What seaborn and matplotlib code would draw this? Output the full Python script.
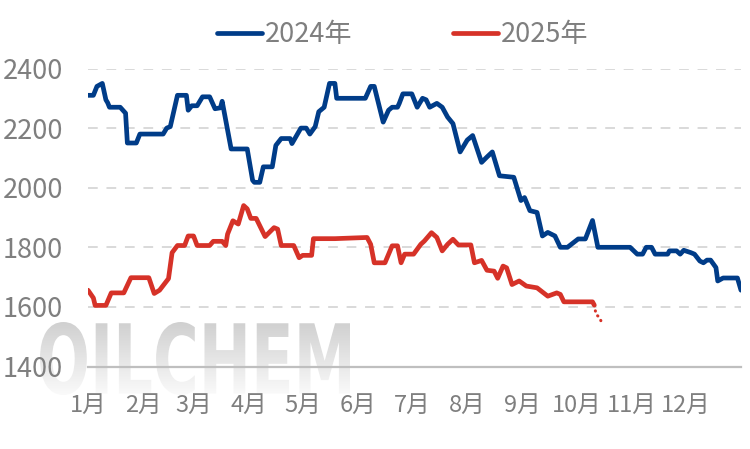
import matplotlib
matplotlib.use('Agg')
import numpy as np
import pandas as pd
import matplotlib.pyplot as plt
import seaborn as sns
from matplotlib.lines import Line2D
from matplotlib.textpath import TextPath
from matplotlib.font_manager import FontProperties
from matplotlib.patches import PathPatch
from matplotlib.transforms import Affine2D

# 数据: x 为一年中的第几天, y 为价格
days_2024 = [0, 3, 5, 8, 10, 11, 12, 18, 21, 22, 27, 29, 42, 44, 46, 50, 55, 56, 58, 61,
             64, 68, 71, 74, 75, 80, 89, 92, 93, 96, 98, 103, 105, 108, 113, 114, 119, 122,
             124, 127, 129, 132, 135, 138, 139, 155, 158, 160, 165, 168, 170, 173, 174, 176,
             181, 184, 187, 189, 191, 195, 198, 201, 204, 208, 212, 215, 220, 223, 226, 230,
             238, 242, 244, 247, 251, 254, 257, 261, 264, 268, 274, 278, 282, 285, 303, 307,
             310, 312, 315, 317, 324, 325, 329, 331, 333, 337, 339, 342, 344, 346, 348, 351,
             352, 355, 363, 365]
price_2024 = [2310, 2310, 2340, 2350, 2295, 2285, 2270, 2270, 2250, 2150, 2150, 2180, 2180,
              2200, 2205, 2310, 2310, 2260, 2275, 2275, 2305, 2305, 2265, 2268, 2290, 2130,
              2130, 2025, 2018, 2018, 2070, 2070, 2142, 2165, 2165, 2148, 2200, 2200, 2180,
              2205, 2255, 2270, 2350, 2350, 2300, 2300, 2340, 2340, 2220, 2260, 2270, 2270,
              2283, 2315, 2315, 2270, 2300, 2295, 2270, 2283, 2270, 2237, 2215, 2120, 2160,
              2175, 2085, 2103, 2120, 2040, 2035, 1957, 1967, 1923, 1917, 1838, 1850, 1838,
              1800, 1800, 1828, 1828, 1890, 1800, 1800, 1777, 1777, 1800, 1800, 1777, 1777,
              1788, 1788, 1777, 1790, 1782, 1777, 1754, 1748, 1757, 1757, 1732, 1687, 1697,
              1697, 1656]

days_2025 = [0, 3, 4, 10, 13, 20, 24, 34, 37, 40, 45, 47, 50, 54, 56, 59, 61, 68, 70, 75,
             77, 78, 81, 84, 87, 89, 91, 94, 99, 104, 106, 108, 115, 118, 120, 125, 126, 138,
             156, 158, 160, 166, 170, 173, 175, 177, 182, 186, 188, 192, 195, 198, 201, 204,
             207, 214, 216, 220, 223, 227, 229, 232, 234, 237, 241, 245, 251, 254, 257, 262,
             264, 266, 282, 283]
price_2025 = [1656, 1630, 1605, 1605, 1647, 1647, 1698, 1698, 1645, 1656, 1695, 1782, 1806,
              1806, 1838, 1838, 1806, 1806, 1820, 1820, 1806, 1844, 1889, 1878, 1940, 1929,
              1897, 1897, 1836, 1866, 1861, 1806, 1806, 1765, 1773, 1773, 1829, 1829, 1833,
              1810, 1748, 1748, 1805, 1805, 1748, 1777, 1777, 1810, 1821, 1849, 1833, 1788,
              1810, 1827, 1808, 1808, 1748, 1756, 1723, 1720, 1696, 1737, 1731, 1675, 1687,
              1670, 1664, 1650, 1636, 1647, 1642, 1617, 1617, 1606]

# 2025 末端虚线部分
days_2025_tail = [283, 284, 286, 287]
price_2025_tail = [1606, 1574, 1565, 1548]

month_starts = [0, 31, 59, 90, 120, 151, 181, 212, 243, 273, 304, 334, 365]
month_labels = ['1月', '2月', '3月', '4月', '5月', '6月', '7月', '8月', '9月', '10月', '11月', '12月']
y_ticks = [1400, 1600, 1800, 2000, 2200, 2400]

blue = '#003C88'
red = '#D63228'
gray = '#7F7F7F'

sns.set_style('white')
plt.rcParams['font.family'] = ['Noto Sans CJK SC', 'DejaVu Sans']

df = pd.concat([
    pd.DataFrame({'day': days_2024, 'price': price_2024, 'year': '2024年'}),
    pd.DataFrame({'day': days_2025, 'price': price_2025, 'year': '2025年'}),
])

fig = plt.figure(figsize=(7.5, 4.49), dpi=100)

# 水印 OILCHEM (渐变灰)
bg = fig.add_axes([0, 0, 1, 1], zorder=0)
bg.set_xlim(0, 1)
bg.set_ylim(0, 1)
bg.axis('off')
tp = TextPath((0, 0), 'OILCHEM', size=1, prop=FontProperties(family='DejaVu Sans', weight='bold'))
ext = tp.get_extents()
x0, x1 = 40 / 750, 350 / 750
y0, y1 = 1 - 395 / 449, 1 - 322 / 449
tr = Affine2D().translate(-ext.x0, -ext.y0).scale((x1 - x0) / ext.width, (y1 - y0) / ext.height).translate(x0, y0)
wm_path = tr.transform_path(tp)
patch = PathPatch(wm_path, facecolor='none', edgecolor='none', transform=bg.transData)
bg.add_patch(patch)
grad = np.linspace(0, 1, 100).reshape(-1, 1)
img = bg.imshow(grad, extent=[x0, x1, y0, y1], origin='upper', aspect='auto',
                cmap=matplotlib.colors.LinearSegmentedColormap.from_list('wm', ['#D0D0D0', '#FAFAFA']))
img.set_clip_path(patch)

ax = fig.add_axes([88 / 750, 1 - 366.5 / 449, 653 / 750, (366.5 - 68.5) / 449], zorder=1)
ax.patch.set_alpha(0)

sns.lineplot(data=df, x='day', y='price', hue='year', palette=[blue, red],
             estimator=None, sort=False, linewidth=3.4, legend=False, ax=ax,
             solid_joinstyle='round', solid_capstyle='round')
ax.plot(days_2025_tail, price_2025_tail, color=red, linewidth=2.2,
        linestyle=(0, (0.1, 1.8)), dash_capstyle='round')

ax.set_xlim(0, 365)
ax.set_ylim(1400, 2400)
ax.set_xticks(month_starts)
ax.set_xticklabels(month_labels + [''])
ax.set_yticks(y_ticks)
ax.set_yticklabels([str(v) for v in y_ticks])
ax.set_xlabel('')
ax.set_ylabel('')

for v in y_ticks[1:]:
    ax.axhline(v, color='#D9D9D9', linewidth=1.4, linestyle=(0, (5, 4.5)), zorder=0)

for s in ['top', 'right', 'left']:
    ax.spines[s].set_visible(False)
ax.spines['bottom'].set_color('#BFBFBF')
ax.spines['bottom'].set_linewidth(1.6)

ax.tick_params(axis='x', direction='in', length=6, width=1.2, color='#BFBFBF',
               labelsize=17, labelcolor=gray, pad=20)
ax.tick_params(axis='y', length=0, labelsize=19.5, labelcolor=gray, pad=18)

handles = [Line2D([], [], color=blue, linewidth=3.4, solid_capstyle='round'),
           Line2D([], [], color=red, linewidth=3.4, solid_capstyle='round')]
fig.legend(handles, ['2024年', '2025年'], loc='center', bbox_to_anchor=(0.537, 1 - 35 / 449),
           ncol=2, frameon=False, fontsize=19.5, labelcolor=gray, handlelength=1.65,
           handletextpad=0.12, columnspacing=3.7)

fig.savefig('out.png', dpi=100)
